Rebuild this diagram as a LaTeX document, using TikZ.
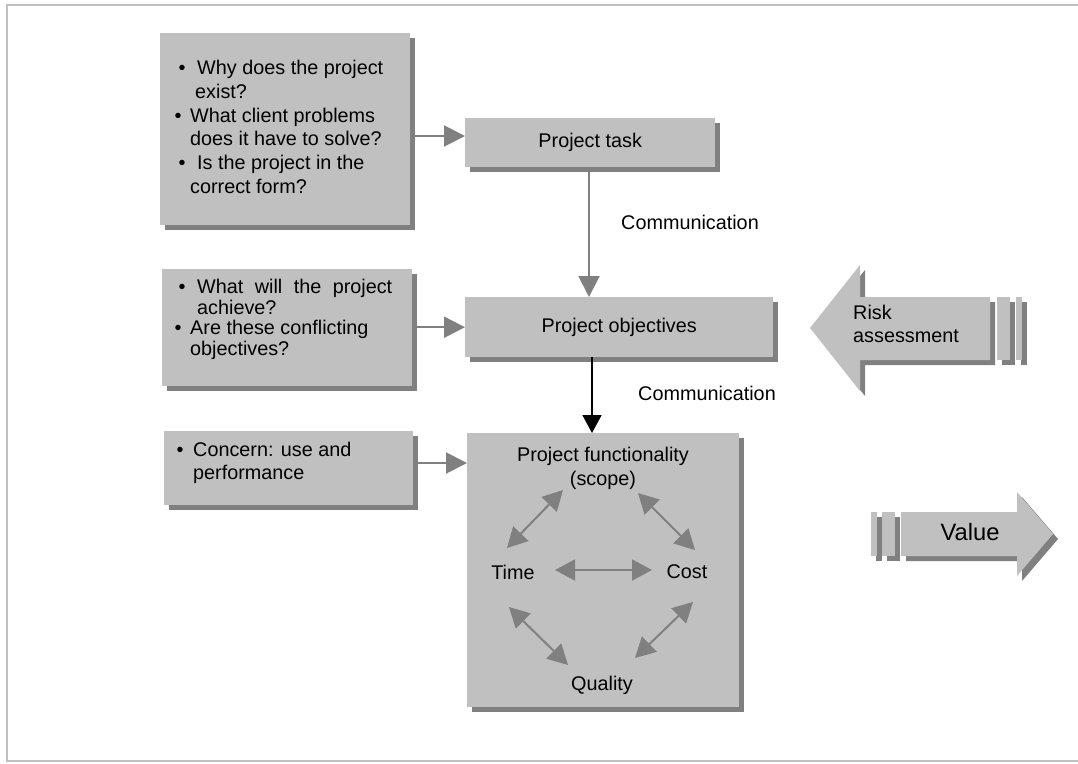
\documentclass[tikz,border=0pt]{standalone}
\usepackage{fontspec}
\setmainfont{Liberation Sans}
\usetikzlibrary{arrows.meta,shadows}

\definecolor{boxgray}{HTML}{C0C0C0}
\definecolor{shade}{HTML}{808080}
\definecolor{linkgray}{HTML}{808080}
\definecolor{framegray}{HTML}{C0C0C0}

\tikzset{
  panel/.style={fill=boxgray, draw=none, inner sep=0pt, anchor=north west,
    drop shadow={shadow xshift=5pt, shadow yshift=-5pt, fill=shade, opacity=1}},
  body/.style={font=\fontsize{19.8}{23.8}\selectfont, inner sep=0pt},
  % multi-line notes are placed by the baseline of their last line
  notes/.style={body, align=left, anchor=base west},
  link/.style={draw=linkgray, line width=2pt, -{Triangle[length=21pt,width=21pt]}},
  mainlink/.style={draw=black, line width=1.6pt, -{Triangle[length=18pt,width=19pt]}},
  tradeoff/.style={draw=linkgray, line width=2pt,
    {Triangle[length=20pt,width=21pt]}-{Triangle[length=20pt,width=21pt]}},
  bigarrow/.style={fill=boxgray, draw=none},
  bigshade/.style={fill=shade, draw=none},
}

\newcommand{\bulletline}[3]{\hspace*{#1}\textbullet\hspace*{#2}#3}

\begin{document}
\begin{tikzpicture}[x=1pt,y=-1pt]
  \useasboundingbox (0,0) rectangle (1078,763);
  \draw[framegray, line width=2pt] (7,5) rectangle (1084,761);

  % question panels on the left
  \node[panel, minimum width=250pt, minimum height=192pt] (why) at (160,33) {};
  \node[panel, minimum width=250pt, minimum height=117pt] (what) at (162,269) {};
  \node[panel, minimum width=249pt, minimum height=74pt] (concern) at (164,431) {};

  \node[notes] (whytext) at (170,193.5) {%
    \bulletline{8.5pt}{11.6pt}{Why does the project}\\
    \hspace*{25pt}exist?\\
    \bulletline{4.5pt}{8.6pt}{What client problems}\\
    \hspace*{20pt}does it have to solve?\\
    \bulletline{8.5pt}{11.6pt}{Is the project in the}\\
    \hspace*{20pt}correct form?};
  \node[notes, font=\fontsize{19.8}{20.5}\selectfont] (whattext) at (170,355) {%
    \bulletline{8.5pt}{11.6pt}{\makebox[195pt][s]{What will the project}}\\
    \hspace*{27pt}achieve?\\
    \bulletline{4.5pt}{8.6pt}{Are these conflicting}\\
    \hspace*{20pt}objectives?};
  \node[notes, font=\fontsize{19.8}{23}\selectfont] (concerntext) at (170,479.5) {%
    \bulletline{6.5pt}{9.6pt}{Concern: use and}\\
    \hspace*{23pt}performance};

  % central chain
  \node[panel, minimum width=250pt, minimum height=49pt, body] (task) at (465,118) {Project task};
  \node[panel, minimum width=308pt, minimum height=60pt, body] (objectives) at (465,297) {Project objectives};
  \node[panel, minimum width=272pt, minimum height=274pt] (scope) at (467,433) {};

  \node[body, align=center] (func) at (603,468.5) {Project functionality\\(scope)};
  \node[body] (time) at (513,572) {Time};
  \node[body] (cost) at (687,572) {Cost};
  \node[body] (quality) at (602,685) {Quality};

  \node[body] (comm1) at (690,222) {Communication};
  \node[body] (comm2) at (707,393) {Communication};

  % connectors
  \draw[link] (why.east |- 0,136) -- (task.west |- 0,136);
  \draw[link] (what.east |- objectives.west) -- (objectives.west);
  \draw[link] (concern.east |- 0,463) -- (scope.west |- 0,463);
  \draw[link] (task.south -| 589,0) -- (objectives.north -| 589,0);
  \draw[mainlink] (objectives.south -| 592,0) -- (scope.north -| 592,0);

  % trade-offs inside the scope panel
  \coordinate (tcA) at (555,570);  \coordinate (tcB) at (652,570);
  \coordinate (ulA) at (507,548);  \coordinate (ulB) at (563,490);
  \coordinate (urA) at (638,493);  \coordinate (urB) at (695,550);
  \coordinate (llA) at (509,607);  \coordinate (llB) at (568,665);
  \coordinate (lrA) at (693,602);  \coordinate (lrB) at (635,658);
  \draw[tradeoff] (tcA) -- (tcB);
  \draw[tradeoff] (ulA) -- (ulB);
  \draw[tradeoff] (urA) -- (urB);
  \draw[tradeoff] (llA) -- (llB);
  \draw[tradeoff] (lrA) -- (lrB);

  % risk assessment block arrow
  \begin{scope}[shift={(5,5)}]
    \fill[bigshade] (810,328) -- (860,265) -- (860,297) -- (990,297) -- (990,360)
      -- (860,360) -- (860,391) -- cycle;
    \fill[bigshade] (997,297) rectangle (1010,360);
    \fill[bigshade] (1016,297) rectangle (1022,360);
  \end{scope}
  \fill[bigarrow] (810,328) -- (860,265) -- (860,297) -- (990,297) -- (990,360)
    -- (860,360) -- (860,391) -- cycle;
  \fill[bigarrow] (997,297) rectangle (1010,360);
  \fill[bigarrow] (1016,297) rectangle (1022,360);
  \node[notes] (risk) at (853,342.8) {Risk\\assessment};

  % value block arrow
  \begin{scope}[shift={(5,5)}]
    \fill[bigshade] (901,512) -- (1017,512) -- (1017,492) -- (1053,534) -- (1017,576)
      -- (1017,556) -- (901,556) -- cycle;
    \fill[bigshade] (882,512) rectangle (895,556);
    \fill[bigshade] (871,512) rectangle (877,556);
  \end{scope}
  \fill[bigarrow] (901,512) -- (1017,512) -- (1017,492) -- (1053,534) -- (1017,576)
    -- (1017,556) -- (901,556) -- cycle;
  \fill[bigarrow] (882,512) rectangle (895,556);
  \fill[bigarrow] (871,512) rectangle (877,556);
  \node[font=\fontsize{23.7}{28}\selectfont, inner sep=0pt] (value) at (970,532) {Value};
\end{tikzpicture}
\end{document}
